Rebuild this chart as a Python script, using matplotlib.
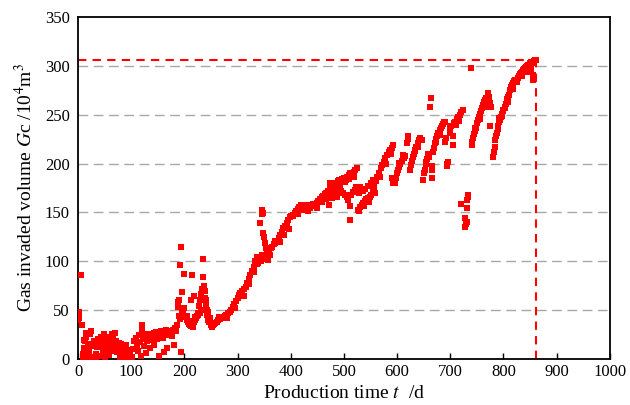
import matplotlib
matplotlib.use('Agg')
import matplotlib.pyplot as plt
import numpy as np

matplotlib.rc('font', **{'family': 'Liberation Serif'})
matplotlib.rcParams['mathtext.fontset'] = 'stix'

# 生産初期 (0-100 d)
t_early = [0, 1, 1, 2, 2, 6, 8, 9, 10, 11, 11, 12, 14, 14, 15, 17, 19, 20, 21, 22, 24, 25, 27,
           28, 30, 30, 31, 33, 34, 36, 37, 38, 40, 41, 43, 44, 45, 47, 48, 49, 50, 52, 53,
           54, 55, 57, 58, 59, 60, 61, 62, 64, 65, 66, 67, 68, 70, 71, 72, 73, 74, 76, 77,
           78, 79, 80, 82, 83, 84, 86, 87, 88, 90, 92, 93, 95, 96, 98, 100, 102]
gc_early = [40, 42, 44, 46, 48, 86, 35, 5, 2, 19, 11, 18, 22, 2, 26, 3, 12, 7, 25, 25, 28, 15, 1,
            13, 18, 2, 14, 1, 5, 12, 20, 16, 19, 3, 22, 17, 12, 8, 25, 14, 2, 19, 11,
            6, 13, 10, 22, 4, 17, 13, 8, 25, 20, 14, 10, 16, 26, 18, 12, 7, 9, 16, 11,
            9, 2, 15, 6, 12, 4, 6, 1, 8, 14, 5, 3, 9, 2, 6, 1, 2]

# 100-185 d
t_b = [104, 106, 108, 110, 112, 114, 116, 118, 120, 121, 122, 124, 126, 128, 130, 132, 134,
       136, 138, 140, 142, 143, 145, 147, 149, 151, 153, 155, 156, 158, 160, 162, 164, 166,
       168, 170, 172, 174, 176, 178, 180, 182, 184, 186, 193]
gc_b = [10, 18, 21, 14, 8, 24, 17, 3, 28, 35, 20, 13, 22, 6, 18, 25, 21,
        11, 24, 19, 26, 14, 22, 27, 20, 24, 3, 28, 22, 26, 21, 7, 25, 30,
        11, 24, 27, 29, 23, 30, 14, 32, 28, 35, 7]

# 185-253 d
t_c = [187, 188, 189, 190, 191, 192, 194, 195, 196, 198, 200, 202, 204, 206, 208, 210, 212,
       213, 215, 216, 217, 218, 220, 222, 224, 226, 228, 229, 230, 232, 233, 234, 235, 236,
       237, 238, 239, 240, 241, 242, 243, 245, 247, 249, 251, 253,
       199, 205, 211, 219, 225, 231, 244, 248]
gc_c = [53, 58, 44, 60, 41, 96, 115, 68, 50, 47, 87, 43, 40, 38, 36, 35, 60,
        34, 86, 33, 64, 38, 40, 42, 44, 45, 54, 60, 47, 66, 72, 102, 84, 75,
        70, 62, 69, 55, 60, 50, 45, 40, 38, 35, 33, 35,
        52, 44, 39, 43, 47, 50, 48, 42]

# 255-600 d
t_d = [255, 258, 261, 264, 267, 270, 273, 276, 279, 282, 285, 288, 291, 294, 297, 300, 303,
       306, 309, 312, 315, 318, 321, 324, 327, 330, 333, 336, 339, 341, 344, 347, 350, 353,
       356, 359, 362, 365, 368, 371, 374, 377, 380, 383, 386, 389, 392, 395, 398, 401, 404,
       407, 410, 413, 416, 419, 422, 425, 428, 431, 434, 437, 440, 443, 446, 449, 452, 455,
       458, 461, 464, 467, 470, 473, 476, 479, 482, 485, 488, 491, 494, 497, 500, 503, 506,
       509, 512, 515, 518, 521, 524,
       265, 280, 295, 305, 312, 322, 331, 336, 346, 361, 370, 379, 388, 396, 405, 414, 423,
       432, 441, 450, 459, 466, 475, 484, 493, 502, 510, 518,
       343, 345, 346, 348, 348, 350, 351, 353, 355, 358,
       472, 474, 478, 482, 486, 490, 494, 498, 502, 505, 508, 511, 511, 514, 517, 520, 523,
       526, 528,
       526, 529, 531, 533, 536, 539, 542, 545, 548, 551, 554, 557, 560, 563, 566, 569, 572,
       575, 578, 581, 584, 587, 590, 593,
       537, 547, 558, 568, 579, 588,
       530, 535, 540, 545, 550, 555, 590, 592]
gc_d = [36, 37, 38, 40, 41, 42, 42, 44, 45, 47, 48, 50, 53, 56, 59, 62, 65,
        67, 69, 71, 74, 78, 82, 86, 90, 94, 100, 104, 98, 103, 100, 104, 102, 106,
        109, 111, 113, 115, 118, 119, 121, 124, 127, 130, 134, 136, 139, 142, 145, 146, 147,
        149, 151, 153, 155, 157, 157, 156, 155, 157, 155, 154, 156, 158, 157, 160, 162, 164,
        166, 167, 169, 170, 172, 174, 175, 177, 178, 180, 182, 183, 181, 184, 185, 183, 186,
        188, 190, 188, 191, 193, 195,
        43, 42, 52, 67, 64, 77, 89, 97, 106, 106, 121, 120, 127, 133, 146, 148, 152,
        151, 159, 154, 161, 164, 168, 173, 178, 181, 184, 186,
        139, 152, 148, 149, 129, 125, 119, 113, 108, 101,
        158, 180, 165, 168, 166, 170, 172, 170, 168, 166, 163, 156, 142, 168, 171, 173, 176,
        174, 170,
        152, 151, 155, 158, 160, 162, 164, 165, 166, 168, 172, 176, 182, 186, 190, 195, 198,
        202, 206, 209, 212, 214, 216, 219,
        156, 161, 170, 186, 199, 210,
        176, 172, 174, 177, 180, 183, 185, 180]

# 596-739 d
t_e = [596, 597, 599, 601, 603, 606, 609, 612, 615, 618, 620, 621, 624, 626, 628, 630, 632,
       634, 636, 639, 641, 643, 646, 649, 650, 652, 654, 655, 657, 659, 662, 663, 665, 665,
       666, 668, 670, 671, 673, 675, 677, 680, 682, 684, 686, 688, 690, 693, 693, 696, 690,
       692, 699, 702, 705, 705, 707, 709, 712, 715, 718, 721, 724,
       604, 611, 633, 640, 658, 674, 681, 700, 710, 716,
       721, 727, 727, 729, 731, 731, 731, 733, 734, 739]
gc_e = [180, 185, 190, 193, 196, 199, 203, 206, 208, 221, 225, 228, 193, 198, 203, 207, 210,
        214, 217, 221, 224, 226, 224, 183, 190, 193, 199, 202, 205, 207, 258, 267, 185, 193,
        197, 212, 216, 221, 225, 228, 231, 234, 236, 238, 240, 242, 243, 197, 200, 202, 222,
        226, 231, 238, 228, 219, 241, 243, 246, 248, 250, 253, 255,
        201, 209, 213, 217, 210, 222, 229, 236, 239, 244,
        159, 144, 135, 138, 140, 154, 163, 166, 168, 298]

# 740-862 d
t_f = [740, 741, 743, 745, 747, 749, 751, 752, 754, 756, 758, 760, 762, 764, 766, 768, 770,
       771, 773, 774, 774, 776, 781, 782, 784, 784, 786, 787, 789, 790, 792, 793, 795, 797,
       799, 800, 802, 803, 805, 806, 808, 809, 811, 813, 815, 816, 818, 820, 822, 824, 825,
       827, 829, 831, 833, 835, 837, 839, 841, 843, 845, 847, 849, 850, 852, 854, 856, 856,
       858, 860, 862,
       746, 755, 765, 791, 798, 807, 817, 826, 834, 844, 851]
gc_f = [219, 222, 226, 230, 233, 236, 241, 245, 248, 251, 254, 257, 260, 263, 265, 267, 270,
        272, 268, 262, 238, 258, 207, 212, 217, 224, 228, 231, 235, 238, 242, 245, 248, 251,
        254, 255, 257, 258, 261, 265, 263, 268, 270, 275, 278, 280, 282, 284, 285, 286, 286,
        288, 290, 292, 293, 294, 296, 297, 298, 299, 300, 301, 302, 303, 304, 303, 286, 291,
        305, 306, 306,
        236, 246, 258, 247, 249, 266, 276, 283, 290, 294, 297]

# 最終日の値
t_end = 862
gc_end = 306

t = np.concatenate([t_early, t_b, t_c, t_d, t_e, t_f])
gc = np.concatenate([gc_early, gc_b, gc_c, gc_d, gc_e, gc_f])

fig = plt.figure(figsize=(6.3, 4.05), dpi=100)
ax = fig.add_axes([0.124, 0.114, 0.844, 0.844])

for yv in range(50, 350, 50):
  ax.axhline(yv, color='#a8a8a8', lw=1.0, ls=(0, (7, 4)), zorder=0)

ax.scatter(t, gc, marker='s', s=18, color='#ff0000', linewidths=0, zorder=3)

# 最終値までの破線
ax.plot([0, t_end], [gc_end, gc_end], color='#ff0000', lw=1.5, ls=(0, (4, 3)), zorder=2)
ax.plot([t_end, t_end], [0, gc_end], color='#ff0000', lw=1.5, ls=(0, (4, 3)), zorder=2)

ax.set_xlim(0, 1000)
ax.set_ylim(0, 350)
ax.set_xticks(np.arange(0, 1001, 100))
ax.set_yticks(np.arange(0, 351, 50))
ax.tick_params(direction='in', labelsize=12, length=4, width=1, colors='black')
ax.tick_params(axis='y', length=0, pad=6)
for s in ax.spines.values():
  s.set_linewidth(1.3)

ax.set_xlabel('Production time $t$  /d', fontsize=14, labelpad=4)
ax.set_ylabel('Gas invaded volume $G$c /10$^4$m$^3$', fontsize=14, labelpad=6)

fig.savefig('out.png', dpi=100)
